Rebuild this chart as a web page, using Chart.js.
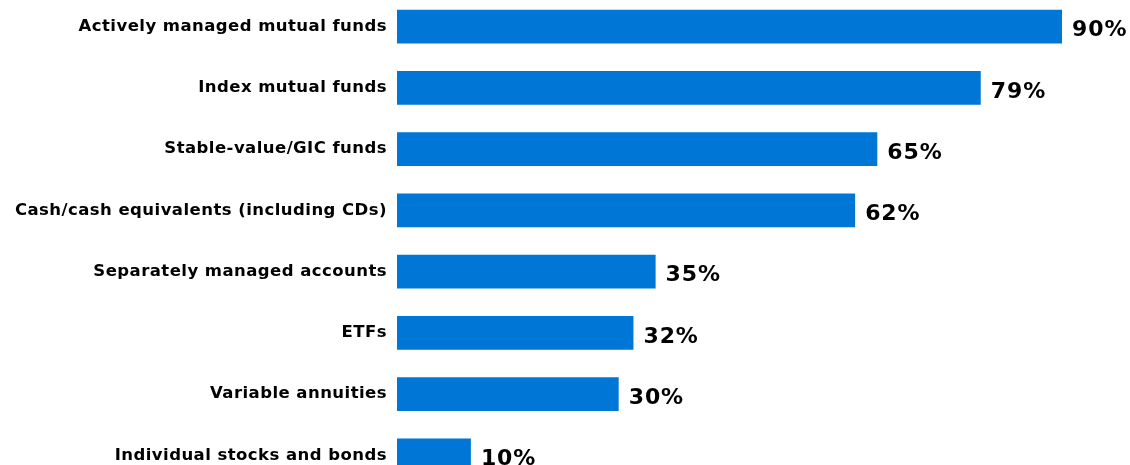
<!DOCTYPE html>
<html>
<head>
<meta charset="utf-8">
<script src="https://cdn.jsdelivr.net/npm/chart.js@4"></script>
<style>
  html, body { margin: 0; padding: 0; background: #fff; overflow: hidden; width: 1130px; height: 465px; position: relative; }
  #c { position: absolute; left: 0; top: -4px; }
</style>
</head>
<body>
<canvas id="c" width="1130" height="490" style="width:1130px;height:490px"></canvas>
<script>
const categories = [
  "Actively managed mutual funds",
  "Index mutual funds",
  "Stable-value/GIC funds",
  "Cash/cash equivalents (including CDs)",
  "Separately managed accounts",
  "ETFs",
  "Variable annuities",
  "Individual stocks and bonds"
];
const values = [90, 79, 65, 62, 35, 32, 30, 10];
const valueLabels = ["90%", "79%", "65%", "62%", "35%", "32%", "30%", "10%"];

const letterSpacingPlugin = {
  id: 'ls',
  beforeDraw(chart) { chart.ctx.letterSpacing = '0.45px'; }
};

const valueLabelPlugin = {
  id: 'vl',
  afterDatasetsDraw(chart) {
    const ctx = chart.ctx;
    const meta = chart.getDatasetMeta(0);
    ctx.save();
    ctx.letterSpacing = '0.9px';
    ctx.font = 'bold 22px "DejaVu Sans"';
    ctx.fillStyle = '#000';
    ctx.textAlign = 'left';
    ctx.textBaseline = 'middle';
    meta.data.forEach((bar, i) => {
      ctx.fillText(valueLabels[i], bar.x + 10, bar.y + 4);
    });
    ctx.restore();
  }
};

new Chart(document.getElementById('c'), {
  type: 'bar',
  data: {
    labels: categories,
    datasets: [{
      data: values,
      backgroundColor: '#0076D7',
      borderWidth: 0,
      categoryPercentage: 1,
      barPercentage: 0.55
    }]
  },
  options: {
    indexAxis: 'y',
    responsive: false,
    maintainAspectRatio: false,
    animation: false,
    devicePixelRatio: 1,
    layout: { padding: 0, autoPadding: false },
    plugins: { legend: { display: false }, tooltip: { enabled: false } },
    scales: {
      x: { display: false, min: 0, max: 99.2 },
      y: {
        grid: { display: false, drawTicks: false },
        border: { display: false },
        ticks: {
          color: '#000',
          padding: 10,
          font: { family: '"DejaVu Sans"', weight: 'bold', size: 16.5 }
        },
        afterFit(scale) {
          scale.width = 397;
          scale.paddingTop = 0;
          scale.paddingBottom = 0;
        }
      }
    }
  },
  plugins: [letterSpacingPlugin, valueLabelPlugin]
});
</script>
</body>
</html>
